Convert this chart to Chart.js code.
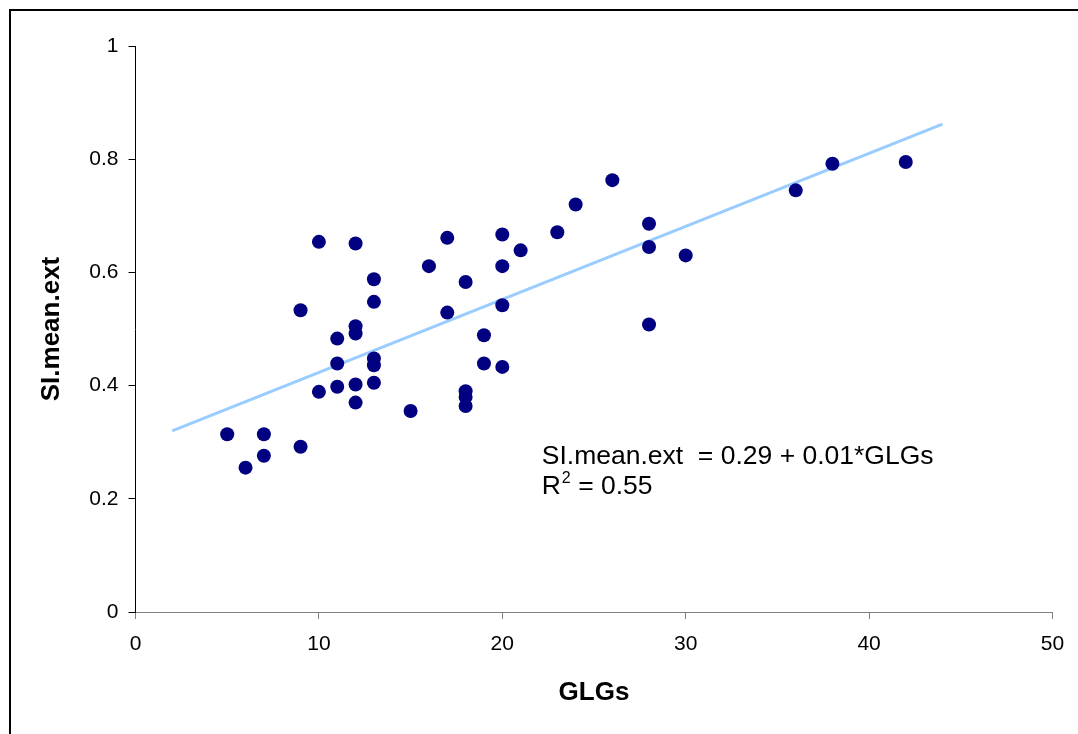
<!DOCTYPE html>
<html>
<head>
<meta charset="utf-8">
<script src="https://cdn.jsdelivr.net/npm/chart.js@4/dist/chart.umd.min.js"></script>
<style>
  html, body { margin: 0; padding: 0; background: #fff; }
  #c { display: block; }
</style>
</head>
<body>
<canvas id="c" width="1078" height="734"></canvas>
<script>
// ---- Data ----
const glgs = [5, 6, 7, 7, 9, 9, 10, 10, 11, 11, 11, 12, 12, 12, 12, 12,
              13, 13, 13, 13, 13, 15, 16, 17, 17, 18, 18, 18, 18, 19, 19,
              20, 20, 20, 20, 21, 23, 24, 26, 28, 28, 28, 30, 36, 38, 42];
const siMeanExt = [0.314, 0.255, 0.314, 0.276, 0.533, 0.292, 0.654, 0.389,
                   0.483, 0.439, 0.398, 0.651, 0.505, 0.492, 0.402, 0.370,
                   0.588, 0.548, 0.448, 0.436, 0.405, 0.355, 0.611, 0.661,
                   0.529, 0.583, 0.390, 0.380, 0.364, 0.489, 0.439, 0.667,
                   0.611, 0.542, 0.433, 0.639, 0.671, 0.720, 0.763, 0.686,
                   0.645, 0.508, 0.630, 0.745, 0.792, 0.795];
const trendX = [2, 44];
const trendY = [0.32, 0.862];
const xTicks = [0, 10, 20, 30, 40, 50];
const yTicks = [0, 0.2, 0.4, 0.6, 0.8, 1];
const yTickLabels = ['0', '0.2', '0.4', '0.6', '0.8', '1'];
const xTitle = 'GLGs';
const yTitle = 'SI.mean.ext';
const eqText = 'SI.mean.ext  = 0.29 + 0.01*GLGs';
const r2Value = '0.55';
const annotAt = { x: 22.15, y: 0.262 };

const FONT = '"Liberation Sans", Arial, sans-serif';

const framePlugin = {
  id: 'frame',
  beforeDraw(chart) {
    const ctx = chart.ctx;
    ctx.save();
    ctx.fillStyle = '#fff';
    ctx.fillRect(0, 0, chart.width, chart.height);
    ctx.strokeStyle = '#000';
    ctx.lineWidth = 2;
    ctx.strokeRect(10, 10, chart.width + 20, chart.height + 20);
    ctx.restore();
  }
};

const annotPlugin = {
  id: 'annot',
  afterDatasetsDraw(chart) {
    const ctx = chart.ctx;
    const xs = chart.scales.x, ys = chart.scales.y;
    const x0 = xs.getPixelForValue(annotAt.x);
    const y0 = ys.getPixelForValue(annotAt.y);
    ctx.save();
    ctx.fillStyle = '#000';
    ctx.textBaseline = 'alphabetic';
    ctx.textAlign = 'left';
    ctx.font = '26.5px ' + FONT;
    ctx.fillText(eqText, x0, y0);
    const y1 = y0 + 30;
    ctx.fillText('R', x0, y1);
    const rw = ctx.measureText('R').width;
    ctx.font = '16px ' + FONT;
    ctx.fillText('2', x0 + rw + 1, y1 - 11);
    const sw = ctx.measureText('2').width;
    ctx.font = '26.5px ' + FONT;
    ctx.fillText(' = ' + r2Value, x0 + rw + sw + 1, y1);
    ctx.restore();
  }
};

const points = glgs.map((g, i) => ({ x: g, y: siMeanExt[i] }));
const trend = trendX.map((x, i) => ({ x: x, y: trendY[i] }));

new Chart(document.getElementById('c'), {
  type: 'scatter',
  data: {
    datasets: [
      {
        label: 'data',
        data: points,
        backgroundColor: '#000080',
        borderColor: '#000080',
        borderWidth: 0,
        pointRadius: 7,
        pointHoverRadius: 7
      },
      {
        type: 'line',
        label: 'trend',
        data: trend,
        borderColor: '#99CCFF',
        borderWidth: 3,
        pointRadius: 0,
        fill: false,
        tension: 0
      }
    ]
  },
  options: {
    responsive: false,
    animation: false,
    devicePixelRatio: 1,
    layout: { padding: { left: 0, top: 46, right: 25.5, bottom: 0 } },
    plugins: {
      legend: { display: false },
      tooltip: { enabled: false },
      title: { display: false }
    },
    scales: {
      x: {
        type: 'linear',
        min: 0, max: 50,
        afterBuildTicks(scale) { scale.ticks = xTicks.map(v => ({ value: v })); },
        afterFit(scale) { scale.height = 122; },
        ticks: {
          color: '#000',
          font: { family: FONT, size: 21 },
          padding: 13,
          maxRotation: 0
        },
        grid: {
          drawOnChartArea: false,
          drawTicks: true,
          tickLength: 7,
          color: '#808080',
          lineWidth: 1
        },
        border: { display: true, color: '#808080', width: 1 },
        title: {
          display: true,
          text: xTitle,
          color: '#000',
          font: { family: FONT, size: 26, weight: 'bold' },
          padding: { top: 0, bottom: 26 }
        }
      },
      y: {
        type: 'linear',
        min: 0, max: 1,
        afterBuildTicks(scale) { scale.ticks = yTicks.map(v => ({ value: v })); },
        afterFit(scale) { scale.width = 135.5; },
        ticks: {
          color: '#000',
          font: { family: FONT, size: 21 },
          padding: 10,
          callback: (v, i) => yTickLabels[i]
        },
        grid: {
          drawOnChartArea: false,
          drawTicks: true,
          tickLength: 7,
          color: '#000',
          lineWidth: 1
        },
        border: { display: true, color: '#000', width: 1 },
        title: {
          display: true,
          text: yTitle,
          color: '#000',
          font: { family: FONT, size: 26, weight: 'bold' },
          padding: { top: 36, bottom: 0 }
        }
      }
    }
  },
  plugins: [framePlugin, annotPlugin]
});
</script>
</body>
</html>
